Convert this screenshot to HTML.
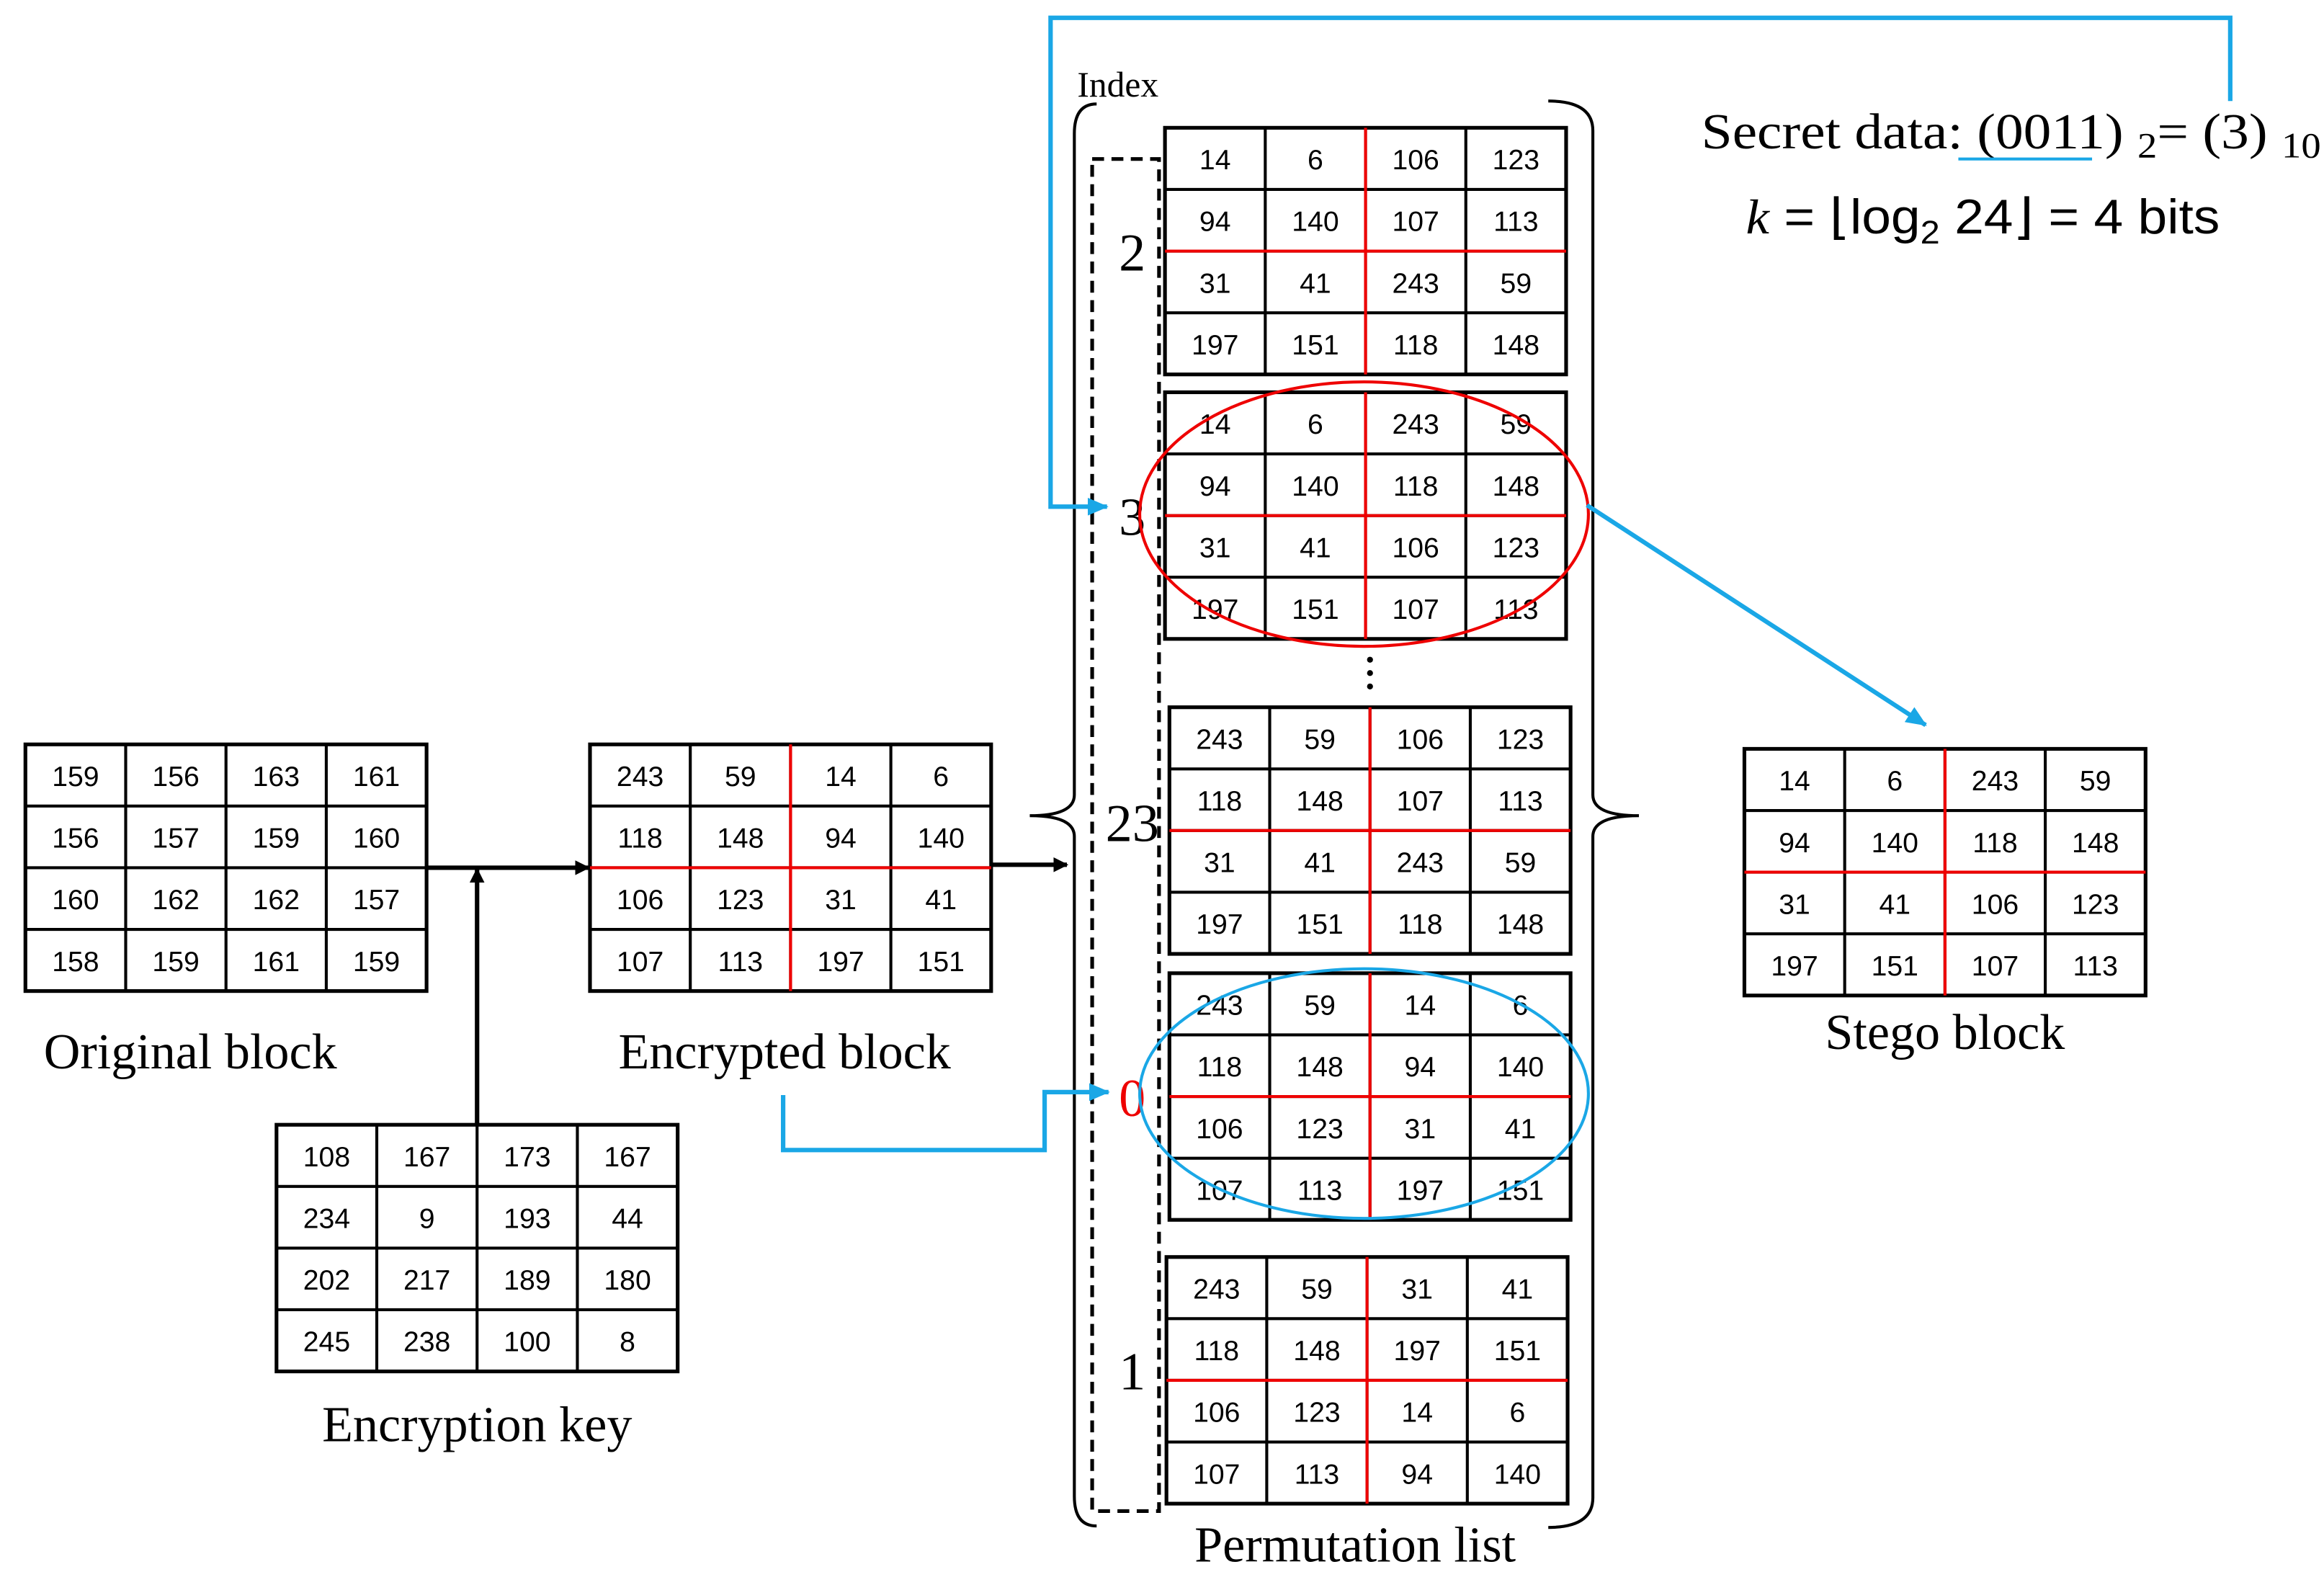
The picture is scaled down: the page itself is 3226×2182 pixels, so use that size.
<!DOCTYPE html>
<html><head><meta charset="utf-8"><style>
html,body{margin:0;padding:0;background:#fff;}
svg{display:block;}
.c{font-family:"Liberation Sans",sans-serif;font-size:19px;text-anchor:middle;fill:#000;}
.s{font-family:"Liberation Serif",serif;fill:#000;}
</style></head><body>
<svg width="3226" height="2182" viewBox="0 0 1564 1058" xmlns="http://www.w3.org/2000/svg">
<defs>
<marker id="ab" markerWidth="10" markerHeight="10" refX="9" refY="5" orient="auto" markerUnits="userSpaceOnUse"><path d="M0,0 L10,5 L0,10 z" fill="#000"/></marker>
<marker id="au" markerWidth="14" markerHeight="12" refX="13" refY="6" orient="auto" markerUnits="userSpaceOnUse"><path d="M0,0 L14,6 L0,12 z" fill="#1aa7e6"/></marker>
<g id="grid">
<rect x="0" y="0" width="270" height="166" fill="#fff" stroke="#000" stroke-width="2.5"/>
<path d="M67.5,0V166M135,0V166M202.5,0V166M0,41.5H270M0,83H270M0,124.5H270" stroke="#000" stroke-width="2"/>
</g>
<g id="red"><path d="M135,0V166M0,83H270" stroke="#e00" stroke-width="2"/></g>
</defs>

<g transform="translate(17,501)"><use href="#grid"/>
<g class="c"><text x="33.75" y="28">159</text><text x="101.25" y="28">156</text><text x="168.75" y="28">163</text><text x="236.25" y="28">161</text>
<text x="33.75" y="69.5">156</text><text x="101.25" y="69.5">157</text><text x="168.75" y="69.5">159</text><text x="236.25" y="69.5">160</text>
<text x="33.75" y="111">160</text><text x="101.25" y="111">162</text><text x="168.75" y="111">162</text><text x="236.25" y="111">157</text>
<text x="33.75" y="152.5">158</text><text x="101.25" y="152.5">159</text><text x="168.75" y="152.5">161</text><text x="236.25" y="152.5">159</text></g></g>

<g transform="translate(397,501)"><use href="#grid"/><use href="#red"/>
<g class="c"><text x="33.75" y="28">243</text><text x="101.25" y="28">59</text><text x="168.75" y="28">14</text><text x="236.25" y="28">6</text>
<text x="33.75" y="69.5">118</text><text x="101.25" y="69.5">148</text><text x="168.75" y="69.5">94</text><text x="236.25" y="69.5">140</text>
<text x="33.75" y="111">106</text><text x="101.25" y="111">123</text><text x="168.75" y="111">31</text><text x="236.25" y="111">41</text>
<text x="33.75" y="152.5">107</text><text x="101.25" y="152.5">113</text><text x="168.75" y="152.5">197</text><text x="236.25" y="152.5">151</text></g></g>

<g transform="translate(186,757)"><use href="#grid"/>
<g class="c"><text x="33.75" y="28">108</text><text x="101.25" y="28">167</text><text x="168.75" y="28">173</text><text x="236.25" y="28">167</text>
<text x="33.75" y="69.5">234</text><text x="101.25" y="69.5">9</text><text x="168.75" y="69.5">193</text><text x="236.25" y="69.5">44</text>
<text x="33.75" y="111">202</text><text x="101.25" y="111">217</text><text x="168.75" y="111">189</text><text x="236.25" y="111">180</text>
<text x="33.75" y="152.5">245</text><text x="101.25" y="152.5">238</text><text x="168.75" y="152.5">100</text><text x="236.25" y="152.5">8</text></g></g>

<g transform="translate(784,86)"><use href="#grid"/><use href="#red"/>
<g class="c"><text x="33.75" y="28">14</text><text x="101.25" y="28">6</text><text x="168.75" y="28">106</text><text x="236.25" y="28">123</text>
<text x="33.75" y="69.5">94</text><text x="101.25" y="69.5">140</text><text x="168.75" y="69.5">107</text><text x="236.25" y="69.5">113</text>
<text x="33.75" y="111">31</text><text x="101.25" y="111">41</text><text x="168.75" y="111">243</text><text x="236.25" y="111">59</text>
<text x="33.75" y="152.5">197</text><text x="101.25" y="152.5">151</text><text x="168.75" y="152.5">118</text><text x="236.25" y="152.5">148</text></g></g>

<g transform="translate(784,264)"><use href="#grid"/><use href="#red"/>
<g class="c"><text x="33.75" y="28">14</text><text x="101.25" y="28">6</text><text x="168.75" y="28">243</text><text x="236.25" y="28">59</text>
<text x="33.75" y="69.5">94</text><text x="101.25" y="69.5">140</text><text x="168.75" y="69.5">118</text><text x="236.25" y="69.5">148</text>
<text x="33.75" y="111">31</text><text x="101.25" y="111">41</text><text x="168.75" y="111">106</text><text x="236.25" y="111">123</text>
<text x="33.75" y="152.5">197</text><text x="101.25" y="152.5">151</text><text x="168.75" y="152.5">107</text><text x="236.25" y="152.5">113</text></g></g>

<g transform="translate(787,476)"><use href="#grid"/><use href="#red"/>
<g class="c"><text x="33.75" y="28">243</text><text x="101.25" y="28">59</text><text x="168.75" y="28">106</text><text x="236.25" y="28">123</text>
<text x="33.75" y="69.5">118</text><text x="101.25" y="69.5">148</text><text x="168.75" y="69.5">107</text><text x="236.25" y="69.5">113</text>
<text x="33.75" y="111">31</text><text x="101.25" y="111">41</text><text x="168.75" y="111">243</text><text x="236.25" y="111">59</text>
<text x="33.75" y="152.5">197</text><text x="101.25" y="152.5">151</text><text x="168.75" y="152.5">118</text><text x="236.25" y="152.5">148</text></g></g>

<g transform="translate(787,655)"><use href="#grid"/><use href="#red"/>
<g class="c"><text x="33.75" y="28">243</text><text x="101.25" y="28">59</text><text x="168.75" y="28">14</text><text x="236.25" y="28">6</text>
<text x="33.75" y="69.5">118</text><text x="101.25" y="69.5">148</text><text x="168.75" y="69.5">94</text><text x="236.25" y="69.5">140</text>
<text x="33.75" y="111">106</text><text x="101.25" y="111">123</text><text x="168.75" y="111">31</text><text x="236.25" y="111">41</text>
<text x="33.75" y="152.5">107</text><text x="101.25" y="152.5">113</text><text x="168.75" y="152.5">197</text><text x="236.25" y="152.5">151</text></g></g>

<g transform="translate(785,846)"><use href="#grid"/><use href="#red"/>
<g class="c"><text x="33.75" y="28">243</text><text x="101.25" y="28">59</text><text x="168.75" y="28">31</text><text x="236.25" y="28">41</text>
<text x="33.75" y="69.5">118</text><text x="101.25" y="69.5">148</text><text x="168.75" y="69.5">197</text><text x="236.25" y="69.5">151</text>
<text x="33.75" y="111">106</text><text x="101.25" y="111">123</text><text x="168.75" y="111">14</text><text x="236.25" y="111">6</text>
<text x="33.75" y="152.5">107</text><text x="101.25" y="152.5">113</text><text x="168.75" y="152.5">94</text><text x="236.25" y="152.5">140</text></g></g>

<g transform="translate(1174,504)"><use href="#grid"/><use href="#red"/>
<g class="c"><text x="33.75" y="28">14</text><text x="101.25" y="28">6</text><text x="168.75" y="28">243</text><text x="236.25" y="28">59</text>
<text x="33.75" y="69.5">94</text><text x="101.25" y="69.5">140</text><text x="168.75" y="69.5">118</text><text x="236.25" y="69.5">148</text>
<text x="33.75" y="111">31</text><text x="101.25" y="111">41</text><text x="168.75" y="111">106</text><text x="236.25" y="111">123</text>
<text x="33.75" y="152.5">197</text><text x="101.25" y="152.5">151</text><text x="168.75" y="152.5">107</text><text x="236.25" y="152.5">113</text></g></g>

<rect x="735" y="107" width="45" height="910" fill="none" stroke="#000" stroke-width="2.5" stroke-dasharray="8,5"/>

<path d="M738,70 Q723,70 723,90 L723,535 Q723,549 693,549 Q723,549 723,563 L723,1007 Q723,1027 738,1027" fill="none" stroke="#000" stroke-width="2"/>
<path d="M1042,68 Q1072,68 1072,88 L1072,535 Q1072,549 1103,549 Q1072,549 1072,563 L1072,1008 Q1072,1028 1042,1028" fill="none" stroke="#000" stroke-width="2"/>

<text class="s" x="725" y="65" font-size="24">Index</text>
<g class="s" font-size="36" text-anchor="middle">
<text x="762" y="182">2</text><text x="762" y="360">3</text><text x="762" y="566">23</text>
<text x="762" y="751" fill="#e00">0</text><text x="762" y="935">1</text></g>
<g fill="#000"><circle cx="922" cy="444" r="2"/><circle cx="922" cy="453" r="2"/><circle cx="922" cy="462" r="2"/></g>

<ellipse cx="918" cy="346" rx="151" ry="89" fill="none" stroke="#e00" stroke-width="2"/>
<ellipse cx="918" cy="736" rx="151" ry="84" fill="none" stroke="#1aa7e6" stroke-width="2"/>

<line x1="287" y1="584" x2="396" y2="584" stroke="#000" stroke-width="3" marker-end="url(#ab)"/>
<line x1="321" y1="757" x2="321" y2="585" stroke="#000" stroke-width="3" marker-end="url(#ab)"/>
<line x1="667" y1="582" x2="718" y2="582" stroke="#000" stroke-width="3" marker-end="url(#ab)"/>

<polyline points="1501,68 1501,12 707,12 707,341 745,341" fill="none" stroke="#1aa7e6" stroke-width="3" marker-end="url(#au)"/>
<polyline points="527,737 527,774 703,774 703,735 746,735" fill="none" stroke="#1aa7e6" stroke-width="3" marker-end="url(#au)"/>
<line x1="1068" y1="340" x2="1296" y2="488" stroke="#1aa7e6" stroke-width="3" marker-end="url(#au)"/>

<g class="s" font-size="34" text-anchor="middle">
<text x="128" y="719">Original block</text>
<text x="528" y="719">Encrypted block</text>
<text x="321" y="970">Encryption key</text>
<text x="1309" y="706">Stego block</text>
<text x="912" y="1051">Permutation list</text></g>

<text class="s" x="1145" y="100" font-size="34" textLength="417" lengthAdjust="spacingAndGlyphs">Secret data: (0011) <tspan font-size="24" dy="6">2</tspan><tspan dy="-6">= (3) </tspan><tspan font-size="24" dy="6">10</tspan></text>
<line x1="1318" y1="107" x2="1408" y2="107" stroke="#1aa7e6" stroke-width="2"/>
<text x="1175" y="157" font-size="33" font-family="Liberation Sans, sans-serif" textLength="319" lengthAdjust="spacingAndGlyphs"><tspan font-family="Liberation Serif, serif" font-style="italic">k</tspan> = ⌊log<tspan font-size="22" dy="7">2</tspan><tspan dy="-7"> 24⌋ = 4 bits</tspan></text>
</svg>
</body></html>
